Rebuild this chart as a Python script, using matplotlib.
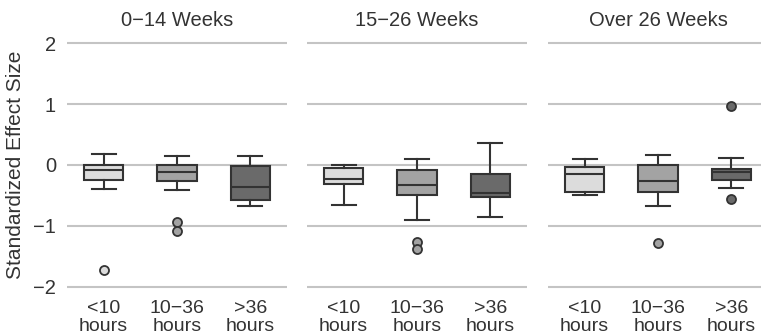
import matplotlib
matplotlib.use("Agg")
import matplotlib.pyplot as plt

plt.rcParams['font.family'] = ['Liberation Sans', 'DejaVu Sans']

panels = ["0−14 Weeks", "15−26 Weeks", "Over 26 Weeks"]
categories = ["<10\nhours", "10−36\nhours", ">36\nhours"]
colors = ["#dcdcdc", "#a3a3a3", "#6a6a6a"]

# per panel, per category: (whislo, q1, med, q3, whishi)
stats_p1 = [(-0.39, -0.25, -0.08, 0.00, 0.18),
            (-0.41, -0.26, -0.11, 0.00, 0.14),
            (-0.67, -0.57, -0.36, -0.01, 0.14)]
stats_p2 = [(-0.66, -0.31, -0.23, -0.05, 0.00),
            (-0.91, -0.49, -0.33, -0.08, 0.10),
            (-0.85, -0.52, -0.46, -0.14, 0.36)]
stats_p3 = [(-0.50, -0.44, -0.14, -0.04, 0.10),
            (-0.68, -0.45, -0.26, 0.00, 0.16),
            (-0.37, -0.25, -0.11, -0.07, 0.11)]
outliers_p1 = [[-1.72], [-0.93, -1.08], []]
outliers_p2 = [[], [-1.27, -1.37], []]
outliers_p3 = [[], [-1.28], [0.96, -0.55]]

all_stats = [stats_p1, stats_p2, stats_p3]
all_outliers = [outliers_p1, outliers_p2, outliers_p3]

W, H = 761, 336
fig = plt.figure(figsize=(W / 100, H / 100), dpi=100)
lefts = [67, 307, 548]
pw = 220
top_px, bot_px = 40, 290
edge = "#333333"
text_color = "#333333"

for i, (left, title) in enumerate(zip(lefts, panels)):
    ax = fig.add_axes([left / W, 1 - bot_px / H, pw / W, (bot_px - top_px) / H])
    bstats = []
    for j, (lo, q1, med, q3, hi) in enumerate(all_stats[i]):
        bstats.append(dict(whislo=lo, q1=q1, med=med, q3=q3, whishi=hi,
                           fliers=all_outliers[i][j], label=categories[j]))
    bp = ax.bxp(bstats, positions=[0, 1, 2], widths=0.54, capwidths=0.33,
                patch_artist=True, showfliers=True,
                boxprops=dict(edgecolor=edge, linewidth=1.5),
                whiskerprops=dict(color=edge, linewidth=1.5),
                capprops=dict(color=edge, linewidth=1.5),
                medianprops=dict(color=edge, linewidth=1.5),
                flierprops=dict(marker='o', markersize=6.5, markeredgecolor=edge,
                                markeredgewidth=1.3))
    for j, patch in enumerate(bp['boxes']):
        patch.set_facecolor(colors[j])
        bp['fliers'][j].set_markerfacecolor(colors[j])
    ax.set_xlim(-0.5, 2.5)
    ax.set_ylim(-2.05, 2.05)
    ax.set_yticks([-2, -1, 0, 1, 2])
    ax.yaxis.grid(True, color="#c4c4c4", linewidth=1.5)
    ax.set_axisbelow(True)
    for s in ax.spines.values():
        s.set_visible(False)
    ax.tick_params(axis='y', length=0, labelsize=14.5, colors=text_color, pad=8)
    ax.tick_params(axis='x', length=0, labelsize=14, colors=text_color, pad=7)
    ax.set_xticks([0, 1, 2])
    ax.set_xticklabels(categories, linespacing=1.08)
    if i == 0:
        ax.set_ylabel("Standardized Effect Size", fontsize=15, color=text_color, labelpad=6)
    else:
        ax.set_yticklabels([])
    ax.set_title(title, fontsize=14.5, color=text_color, pad=10)

fig.savefig("out.png", dpi=100)
